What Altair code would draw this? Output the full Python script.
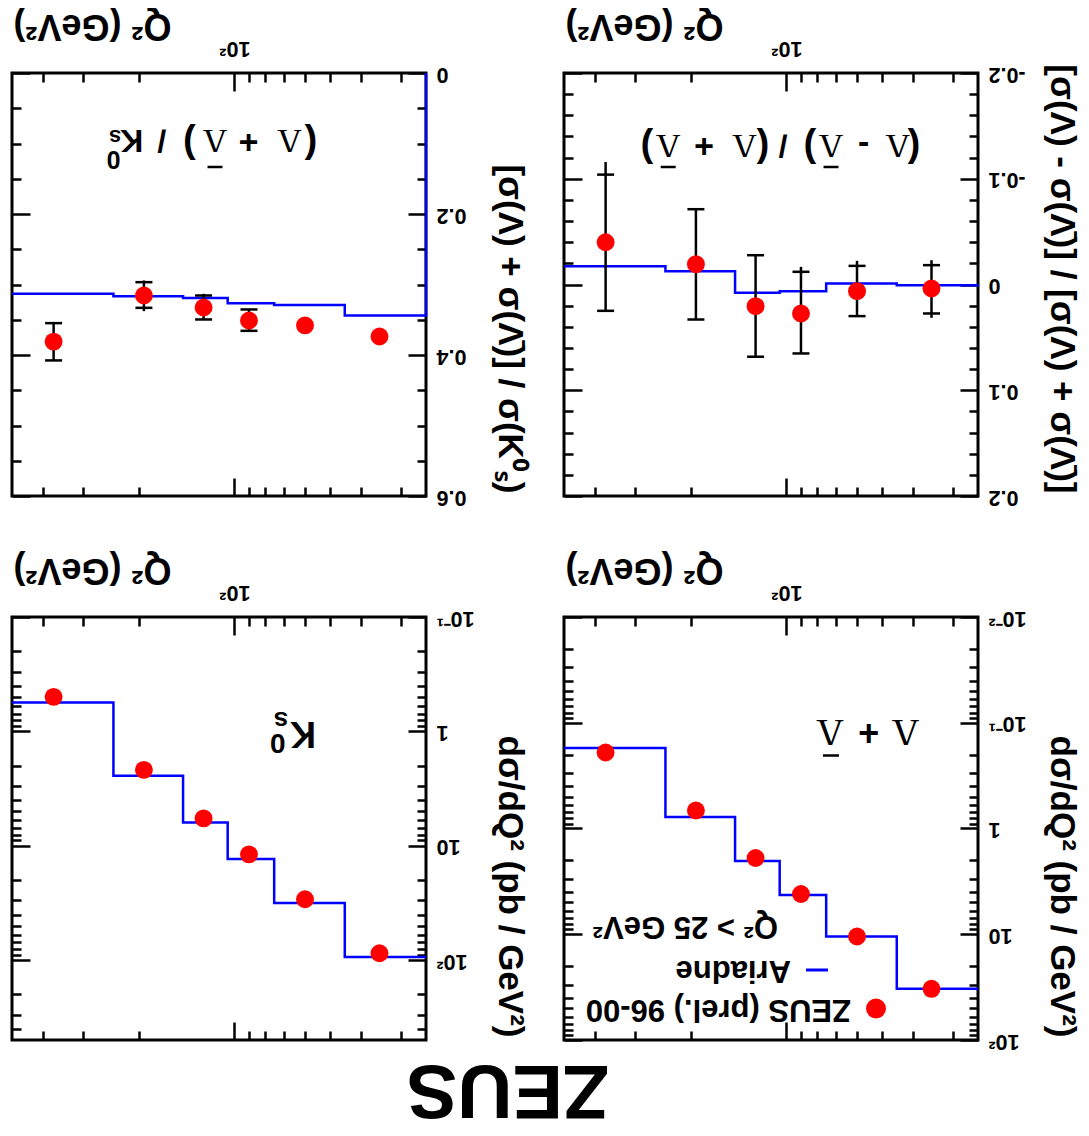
import altair as alt
import pandas as pd

# ------------------------------------------------------------------ data
q2_edges = [25, 45, 75, 105, 145, 240, 500]          # Q^2 bin edges (GeV^2)
q2_points = [35, 60, 90, 125, 192.5, 370]             # bin centres of the data points

# Lambda + anti-Lambda  dsigma/dQ2 (pb/GeV^2)
lam_sigma = [32.8, 10.5, 4.16, 1.90, 0.676, 0.191]
lam_ariadne = [32.8, 10.5, 4.26, 2.03, 0.778, 0.173]

# K0s  dsigma/dQ2 (pb/GeV^2)
k0_sigma = [87.1, 29.4, 11.9, 5.77, 2.17, 0.499]
k0_ariadne = [94.0, 31.7, 13.1, 6.27, 2.45, 0.56]

# (Lambda - antiLambda) / (Lambda + antiLambda)
asym = [0.0038, 0.0063, 0.0274, 0.0205, -0.0192, -0.0400]
asym_ariadne = [0.0006, -0.0009, 0.0063, 0.0079, -0.0126, -0.0173]
asym_tot_lo = [-0.0230, -0.0224, -0.0167, -0.0277, -0.0712, -0.1159]
asym_tot_hi = [0.0315, 0.0299, 0.0652, 0.0683, 0.0331, 0.0249]
asym_stat_lo = [-0.0183, -0.0176, -0.0120, -0.0277, -0.0712, -0.1039]
asym_stat_hi = [0.0274, 0.0299, 0.0652, 0.0683, 0.0331, 0.0249]

# (Lambda + antiLambda) / K0s
ratio = [0.3737, 0.358, 0.351, 0.3326, 0.3156, 0.381]
ratio_ariadne = [0.344, 0.329, 0.3265, 0.319, 0.3165, 0.313]
ratio_tot_lo = [None, None, 0.3354, 0.3132, 0.2943, 0.3534]
ratio_tot_hi = [None, None, 0.3657, 0.3496, 0.3378, 0.4077]
ratio_stat_lo = [None, None, 0.3354, 0.3156, 0.2967, 0.3548]
ratio_stat_hi = [None, None, 0.3657, 0.3496, 0.3331, 0.4077]

# tick values
x_major = [100]
x_minor = [30, 40, 50, 60, 70, 80, 90, 200, 300, 400]
lam_y_major = [0.01, 0.1, 1, 10, 100]
lam_y_minor = [m * d for d in (0.01, 0.1, 1, 10) for m in range(2, 10)]
k0_y_major = [0.1, 1, 10, 100]
k0_y_minor = [m * d for d in (0.1, 1, 10) for m in range(2, 10)] + [200, 300, 400]
ratio_y_major = [0, 0.2, 0.4, 0.6]
ratio_y_minor = [0.05, 0.1, 0.15, 0.25, 0.3, 0.35, 0.45, 0.5, 0.55]
asym_y_major = [-0.2, -0.1, 0, 0.1, 0.2]
asym_y_minor = [-0.18, -0.16, -0.14, -0.12, -0.08, -0.06, -0.04, -0.02,
                0.02, 0.04, 0.06, 0.08, 0.12, 0.14, 0.16, 0.18]

# texts
x_title = "Q² (GeV²)"
xsec_title = "dσ/dQ² (pb / GeV²)"
ratio_title = "[σ(Λ) + σ(Λ̄)] / σ(K⁰ₛ)"
asym_title = "[σ(Λ) - σ(Λ̄)] / [σ(Λ) + σ(Λ̄)]"
legend_texts = ["ZEUS (prel.) 96-00", "Ariadne", "Q² > 25 GeV²"]
experiment = "ZEUS"

# ------------------------------------------------------------------ style
SANS = "Liberation Sans"
SERIF = "Liberation Serif"
RED = "#ff0000"
BLUE = "#0000ff"
W, H = 414, 423
LABEL_FS = 21.5
TITLE_FS = 36

log_expr = ("datum.value < 0.05 ? '10⁻²' : datum.value < 0.5 ? '10⁻¹' : "
            "datum.value < 5 ? '1\u2007' : datum.value < 50 ? '10\u2007' : '10²'")
lin_expr = "datum.value == 0 ? '0' : replace(format(datum.value, '.1f'), '\u2212', '-')"

# panel label glyphs: (text, x, y, font size) in panel pixels (figure is shown rotated by 180 deg)
TL_sans = [("(", 299, 70, 38), ("+", 236.5, 68, 34), (")", 177.3, 70, 38), ("/", 149.8, 67, 32),
           ("K", 119.8, 67, 32), ("0", 101.5, 86, 25), ("s", 103, 64, 22)]
TL_serif = [("Λ", 277.3, 67, 34), ("Λ", 203, 67, 34)]
TL_bars = [(195.5, 210.5, 94)]
TR_sans = [("(", 350, 74, 38), ("-", 299.5, 72, 34), (")", 246, 74, 38), ("/", 219, 72, 32),
           ("(", 198.8, 74, 38), ("+", 140, 72, 34), (")", 83, 74, 38)]
TR_serif = [("Λ", 333.6, 72, 34), ("Λ", 267, 72, 34), ("Λ", 180.3, 72, 34), ("Λ", 104.2, 72, 34)]
TR_bars = [(259.5, 274.5, 94), (96.7, 111.7, 94)]
BR_sans = [("+", 304.7, 115, 36)]
BR_serif = [("Λ", 341.5, 114, 38), ("Λ", 266, 114, 38)]
BR_bars = [(259, 275, 138.5)]
BL_sans = [("K", 291, 115.5, 36), ("0", 265.7, 125, 28), ("s", 269, 103, 26)]

one = pd.DataFrame({"k": [0]})


def step_frame(values, baseline=None):
    qs, vs = [], []
    if baseline is not None:
        qs.append(q2_edges[0])
        vs.append(baseline)
    qs += q2_edges
    vs += list(values) + [values[-1]]
    return pd.DataFrame({"q2": qs, "val": vs, "order": list(range(len(qs)))})


def err_frame(lo, hi):
    rows = [(q, a, b) for q, a, b in zip(q2_points, lo, hi) if a is not None]
    return pd.DataFrame(rows, columns=["q2", "lo", "hi"])


def cap_frame(lo, hi):
    rows = []
    for q, a, b in zip(q2_points, lo, hi):
        if a is not None:
            rows += [(q, a), (q, b)]
    return pd.DataFrame(rows, columns=["q2", "val"])


def tick_axis(orient, offset, values, size):
    return alt.Axis(orient=orient, offset=offset, values=values, ticks=True, tickSize=size,
                    tickWidth=2.5, tickColor="black", labels=False, domain=False, grid=False,
                    title=None)


def glyph_layer(glyphs, font, weight):
    df = pd.DataFrame(glyphs, columns=["t", "px", "py", "fs"])
    return alt.Chart(df).mark_text(angle=180, align="center", baseline="middle", font=font,
                                   fontWeight=weight, color="black").encode(
        x=alt.X("px:Q", scale=None, axis=None),
        y=alt.Y("py:Q", scale=None, axis=None),
        size=alt.Size("fs:Q", scale=None, legend=None),
        text="t:N")


def bar_layers(bars):
    return [alt.Chart(one).mark_rule(color="black", strokeWidth=2.5).encode(
        x=alt.value(a), x2=alt.value(b), y=alt.value(c)) for a, b, c in bars]


def panel(pts_vals, mc_vals, yscale, y_major, y_minor, y_expr, y_title,
          baseline=None, err=None, glyphs=(), extra=()):
    pts = pd.DataFrame({"q2": q2_points, "val": pts_vals})
    xs = alt.Scale(type="log", domain=[25, 500], reverse=True, nice=False)

    x_lab = alt.Axis(orient="top", values=x_major, labelExpr="'10²'", ticks=False, tickSize=0,
                     domain=False, grid=False, labelAngle=180, labelAlign="center",
                     labelBaseline="top", labelPadding=15, labelFlush=False,
                     labelFont=SANS, labelFontSize=LABEL_FS, labelFontWeight="bold",
                     labelColor="black", title=x_title, titleFont=SANS, titleFontSize=TITLE_FS,
                     titleFontWeight="bold", titleColor="black", titleAngle=180,
                     titleAlign="right", titleBaseline="middle", titleX=1, titleY=-48)
    y_lab = alt.Axis(orient="right", values=y_major, labelExpr=y_expr, ticks=False, tickSize=0,
                     domain=False, grid=False, labelAngle=180, labelAlign="right",
                     labelBaseline="middle", labelPadding=10, labelFlush=False,
                     labelOverlap=False, labelFont=SANS, labelFontSize=LABEL_FS,
                     labelFontWeight="bold", labelColor="black", title=y_title,
                     titleFont=SANS, titleFontSize=35, titleFontWeight="bold",
                     titleColor="black", titleAngle=90, titleAlign="right",
                     titleBaseline="middle", titleX=83, titleY=420)
    axis_specs = [
        (x_lab, y_lab),
        (tick_axis("bottom", -H, x_major, 18), tick_axis("left", -W, y_major, 18)),
        (tick_axis("bottom", -H, x_minor, 9), tick_axis("left", -W, y_minor, 9)),
        (tick_axis("top", -H, x_major, 18), tick_axis("right", -W, y_major, 18)),
        (tick_axis("top", -H, x_minor, 9), tick_axis("right", -W, y_minor, 9)),
    ]
    layers = []
    for ax, ay in axis_specs:
        layers.append(alt.Chart(pts).mark_point(opacity=0).encode(
            x=alt.X("q2:Q", scale=xs, axis=ax), y=alt.Y("val:Q", scale=yscale, axis=ay)))

    layers.append(alt.Chart(step_frame(mc_vals, baseline)).mark_line(
        interpolate="step-after", color=BLUE, strokeWidth=2.5).encode(
        x=alt.X("q2:Q", scale=xs, axis=None), y=alt.Y("val:Q", scale=yscale, axis=None),
        order=alt.Order("order:Q")))

    if err is not None:
        tlo, thi, slo, shi = err
        layers.append(alt.Chart(err_frame(tlo, thi)).mark_rule(color="black", strokeWidth=2.5).encode(
            x=alt.X("q2:Q", scale=xs, axis=None), y=alt.Y("lo:Q", scale=yscale, axis=None),
            y2="hi:Q"))
        layers.append(alt.Chart(cap_frame(slo, shi)).mark_tick(
            orient="horizontal", size=17, thickness=2.5, color="black", opacity=1).encode(
            x=alt.X("q2:Q", scale=xs, axis=None), y=alt.Y("val:Q", scale=yscale, axis=None)))

    layers.append(alt.Chart(pts).mark_circle(size=320, color=RED, opacity=1).encode(
        x=alt.X("q2:Q", scale=xs, axis=None), y=alt.Y("val:Q", scale=yscale, axis=None)))

    for g, font, weight in glyphs:
        layers.append(glyph_layer(g, font, weight))
    layers += list(extra)
    return alt.layer(*layers).resolve_axis(x="independent", y="independent").properties(
        width=W, height=H)


# legend (bottom-right panel)
legend_layers = [
    alt.Chart(one).mark_circle(size=400, color=RED, opacity=1).encode(
        x=alt.value(312), y=alt.value(391.5)),
    alt.Chart(one).mark_rule(color=BLUE, strokeWidth=3).encode(
        x=alt.value(242), x2=alt.value(264), y=alt.value(353)),
]
for txt, (lx, ly) in zip(legend_texts, [(287, 392), (227, 353), (214, 309)]):
    legend_layers.append(alt.Chart(one).mark_text(
        angle=180, align="left", baseline="middle", font=SANS, fontWeight="bold",
        fontSize=31, color="black").encode(x=alt.value(lx), y=alt.value(ly), text=alt.value(txt)))

zeus_layer = alt.Chart(one).mark_text(
    angle=180, align="center", baseline="middle", font=SANS, fontWeight="bold",
    fontSize=76, color="black").encode(x=alt.value(496), y=alt.value(472),
                                        text=alt.value(experiment))


def lin(lo, hi):
    return alt.Scale(type="linear", domain=[lo, hi], reverse=True, nice=False, zero=False)


def logs(lo, hi):
    return alt.Scale(type="log", domain=[lo, hi], reverse=True, nice=False)


top_left = panel(ratio, ratio_ariadne, lin(0, 0.6), ratio_y_major, ratio_y_minor, lin_expr,
                 ratio_title, baseline=0,
                 err=(ratio_tot_lo, ratio_tot_hi, ratio_stat_lo, ratio_stat_hi),
                 glyphs=[(TL_sans, SANS, "bold"), (TL_serif, SERIF, "normal")],
                 extra=bar_layers(TL_bars))
top_right = panel(asym, asym_ariadne, lin(-0.2, 0.2), asym_y_major, asym_y_minor, lin_expr,
                  asym_title, baseline=0,
                  err=(asym_tot_lo, asym_tot_hi, asym_stat_lo, asym_stat_hi),
                  glyphs=[(TR_sans, SANS, "bold"), (TR_serif, SERIF, "normal")],
                  extra=bar_layers(TR_bars))
bottom_left = panel(k0_sigma, k0_ariadne, logs(0.1, 500), k0_y_major, k0_y_minor, log_expr,
                    xsec_title, glyphs=[(BL_sans, SANS, "bold")], extra=[zeus_layer])
bottom_right = panel(lam_sigma, lam_ariadne, logs(0.01, 100), lam_y_major, lam_y_minor, log_expr,
                     xsec_title, glyphs=[(BR_sans, SANS, "bold"), (BR_serif, SERIF, "normal")],
                     extra=legend_layers + bar_layers(BR_bars))

chart = alt.concat(top_left, top_right, bottom_left, bottom_right, columns=2,
                   spacing={"row": 121, "column": 138}, bounds="flush").properties(
    padding={"left": -3, "top": -3, "right": 0, "bottom": 0}
).configure_view(stroke="black", strokeWidth=3).configure_axis(grid=False)

chart.save("out.html", embed_options={"renderer": "svg", "actions": False})
